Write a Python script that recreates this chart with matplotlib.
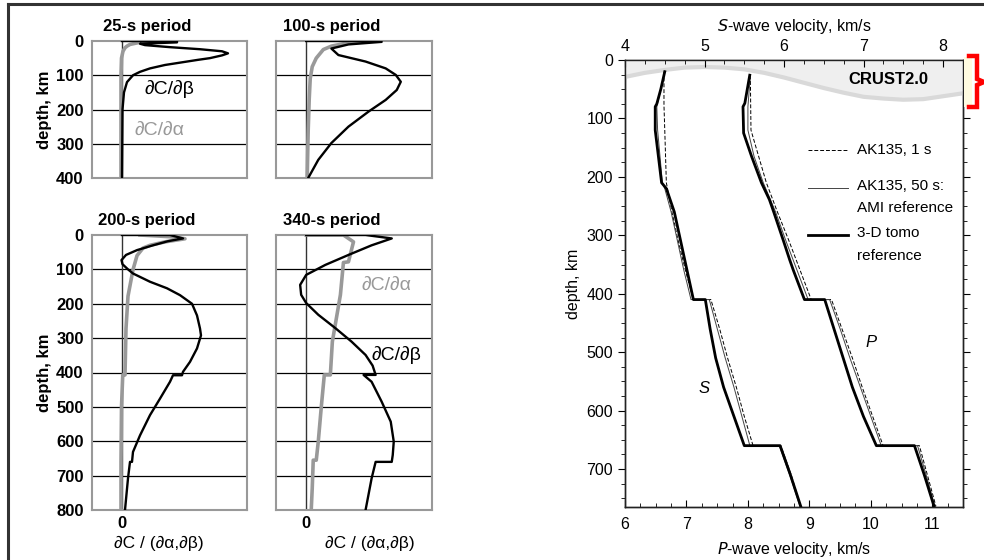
import matplotlib
matplotlib.use("Agg")
import matplotlib.pyplot as plt
from matplotlib.lines import Line2D
from matplotlib.patches import Rectangle
from matplotlib.ticker import MultipleLocator
import numpy as np

plt.rcParams['font.family'] = ['Liberation Sans', 'DejaVu Sans']

# ---- sensitivity kernels (arbitrary units), depth in km ----
titles = ["25-s period", "100-s period", "200-s period", "340-s period"]

k25_beta_d = [0, 0, 4, 8, 12, 18, 24, 30, 36, 42, 50, 55, 60, 70, 80, 90, 100, 120, 150, 200, 400]
k25_beta = [0, 0.44, 0.44, 0.144, 0.184, 0.384, 0.624, 0.80, 0.848, 0.80, 0.704, 0.608, 0.52,
            0.344, 0.224, 0.144, 0.088, 0.04, 0.016, 0.004, 0.0]
k25_alpha_d = [0, 2, 5, 10, 15, 20, 30, 50, 100, 400]
k25_alpha = [0.30, 0.224, 0.128, 0.064, 0.04, 0.024, 0.008, -0.004, -0.008, -0.008]

k100_beta_d = [0, 0, 2.5, 10, 22, 41, 60, 80, 99, 119, 143, 172, 206, 250, 298, 347, 400]
k100_beta = [0, 0.472, 0.6, 0.336, 0.2, 0.256, 0.472, 0.632, 0.712, 0.752, 0.72, 0.632, 0.496,
             0.336, 0.2, 0.096, 0.016]
k100_alpha_d = [0, 3, 8, 15, 25, 50, 75, 110, 170, 260, 400]
k100_alpha = [0.536, 0.416, 0.296, 0.2, 0.136, 0.08, 0.048, 0.032, 0.024, 0.016, 0.008]

k200_beta_d = [0, 0, 10, 18, 30, 44, 58, 73, 85, 100, 112, 136, 155, 175, 200, 234, 272, 292, 330,
               369, 398, 408, 408, 427, 476, 524, 583, 631, 660, 660, 708, 800]
k200_beta = [0, 0.384, 0.488, 0.368, 0.248, 0.12, 0.032, -0.004, 0.004, 0.048, 0.088, 0.224, 0.36,
             0.464, 0.56, 0.6, 0.624, 0.632, 0.6, 0.544, 0.488, 0.48, 0.408, 0.384, 0.304, 0.224,
             0.144, 0.088, 0.08, 0.064, 0.048, 0.024]
k200_alpha_d = [0, 5, 11, 20, 30, 38, 60, 101, 178, 272, 407, 407, 500, 660, 800]
k200_alpha = [0.144, 0.384, 0.504, 0.344, 0.224, 0.168, 0.12, 0.088, 0.048, 0.032, 0.024, 0.006,
              -0.004, -0.008, -0.008]

k340_beta_d = [0, 0, 10, 30, 58, 87, 116, 145, 174, 198, 232, 271, 310, 349, 380, 407, 407, 427,
               485, 543, 601, 640, 660, 660, 708, 800]
k340_beta = [0, 0.472, 0.68, 0.52, 0.336, 0.152, 0, -0.048, -0.04, 0, 0.096, 0.232, 0.36, 0.472,
             0.528, 0.552, 0.456, 0.52, 0.6, 0.672, 0.696, 0.688, 0.68, 0.552, 0.52, 0.472]
k340_alpha_d = [0, 0, 20, 78, 80, 174, 310, 407, 407, 500, 601, 655, 655, 737, 800]
k340_alpha = [0, 0.296, 0.376, 0.336, 0.296, 0.272, 0.208, 0.192, 0.144, 0.12, 0.096, 0.08,
              0.056, 0.048, 0.04]

# ---- velocity profiles ----
tomo_s_d = [20, 50, 75, 80, 120, 165, 210, 220, 260, 310, 360, 410, 410, 460, 510, 560, 610, 660,
            660, 710, 764]
tomo_s = [4.50, 4.45, 4.40, 4.38, 4.38, 4.42, 4.46, 4.52, 4.62, 4.70, 4.78, 4.86, 5.01, 5.07, 5.14,
          5.24, 5.37, 5.50, 5.95, 6.08, 6.21]
ami_s_d = [20, 80, 120, 165, 210, 220, 260, 310, 360, 410, 410, 460, 510, 560, 610, 660, 660, 710, 764]
ami_s = [4.50, 4.40, 4.41, 4.44, 4.47, 4.50, 4.58, 4.66, 4.74, 4.83, 5.06, 5.16, 5.26, 5.37, 5.47,
         5.57, 5.94, 6.07, 6.20]
ak1_s_d = [20, 77.5, 120, 165, 210, 210, 260, 310, 360, 410, 410, 460, 510, 560, 610, 660, 660, 710, 764]
ak1_s = [4.49, 4.49, 4.50, 4.51, 4.52, 4.52, 4.59, 4.67, 4.76, 4.86, 5.08, 5.19, 5.29, 5.40, 5.50,
         5.61, 5.96, 6.09, 6.21]

tomo_p_d = [26, 74, 80, 125, 165, 210, 239, 260, 310, 342, 360, 410, 410, 460, 510, 560, 610, 660,
            660, 710, 764]
tomo_p = [8.03, 7.95, 7.92, 7.93, 8.06, 8.22, 8.35, 8.42, 8.58, 8.68, 8.74, 8.92, 9.25, 9.40, 9.55,
          9.70, 9.88, 10.09, 10.71, 10.87, 11.03]
ami_p_d = [26, 80, 120, 165, 210, 260, 310, 360, 410, 410, 460, 510, 560, 610, 660, 660, 710, 764]
ami_p = [8.04, 8.00, 8.00, 8.10, 8.25, 8.45, 8.62, 8.80, 8.98, 9.33, 9.50, 9.66, 9.83, 10.00, 10.17,
         10.76, 10.90, 11.04]
ak1_p_d = [26, 77.5, 120, 165, 210, 260, 310, 360, 410, 410, 460, 510, 560, 610, 660, 660, 710, 764]
ak1_p = [8.04, 8.045, 8.05, 8.175, 8.30, 8.48, 8.67, 8.85, 9.03, 9.36, 9.53, 9.70, 9.86, 10.03, 10.20,
         10.79, 10.92, 11.06]

crust_s = [4.0, 4.25, 4.5, 4.75, 5.0, 5.25, 5.5, 5.75, 6.0, 6.25, 6.5, 6.75, 7.0, 7.25, 7.5, 7.75,
           8.0, 8.1, 8.25]
crust_d = [29, 22, 17, 13, 12, 13, 16, 22, 30, 39, 48, 56, 63, 66, 68, 67, 62, 60, 57]

legend_labels = ["AK135, 1 s", "AK135, 50 s:\nAMI reference", "3-D tomo\nreference"]

W, H = 984, 560
fig = plt.figure(figsize=(W / 100, H / 100), dpi=100)


def box(l, t, r, b):
    return [l / W, 1 - b / H, (r - l) / W, (b - t) / H]


GRAY = "#999999"
panels = [
    (box(92, 41, 247, 178), 400, k25_beta_d, k25_beta, k25_alpha_d, k25_alpha),
    (box(276, 41, 432, 178), 400, k100_beta_d, k100_beta, k100_alpha_d, k100_alpha),
    (box(92, 235, 247, 510), 800, k200_beta_d, k200_beta, k200_alpha_d, k200_alpha),
    (box(276, 235, 432, 510), 800, k340_beta_d, k340_beta, k340_alpha_d, k340_alpha),
]
kax = []
for i, (rect, dmax, bd, bv, ad, av) in enumerate(panels):
    ax = fig.add_axes(rect)
    ax.set_xlim(-0.24, 1.0)
    ax.set_ylim(dmax, 0)
    for d in range(100, dmax, 100):
        ax.axhline(d, color="black", lw=0.9, zorder=1)
    ax.axvline(0, color="#333333", lw=1.0, zorder=1)
    ax.plot(av, ad, color=GRAY, lw=2.6, zorder=2)
    ax.plot(bv, bd, color="black", lw=1.7, zorder=3)
    for s in ax.spines.values():
        s.set_color(GRAY)
        s.set_linewidth(1.5)
    ax.set_title(titles[i], fontsize=12, fontweight="bold", pad=7, x=0.355)
    ax.tick_params(length=0, labelsize=12, pad=6)
    ax.set_yticks(range(0, dmax + 1, 100))
    if i in (0, 2):
        ax.set_ylabel("depth, km", fontsize=12, fontweight="bold", labelpad=3)
        for lab in ax.get_yticklabels():
            lab.set_fontweight("bold")
    else:
        ax.set_yticklabels([])
    if i in (2, 3):
        ax.set_xticks([0])
        ax.set_xticklabels(["0"], fontweight="bold")
        ax.tick_params(axis="x", pad=4)
        ax.set_xlabel("∂C / (∂α,∂β)", fontsize=12.5)
        ax.xaxis.set_label_coords(0.43 if i == 2 else 0.6, -0.095)
    else:
        ax.set_xticks([])
    kax.append(ax)

kax[0].text(0.38, 140, "∂C/∂β", fontsize=14, color="black", ha="center", va="center")
kax[0].text(0.30, 260, "∂C/∂α", fontsize=14, color=GRAY, ha="center", va="center")
kax[3].text(0.64, 145, "∂C/∂α", fontsize=14, color=GRAY, ha="center", va="center")
kax[3].text(0.72, 350, "∂C/∂β", fontsize=14, color="black", ha="center", va="center")

# ---- velocity panel ----
axp = fig.add_axes(box(625, 60, 963, 507))
axp.set_xlim(6, 11.5)
axp.set_ylim(765, 0)
axs = axp.twiny()
axs.set_xlim(4, 8.25)

axs.fill_between(crust_s, 0, crust_d, color="#efefef", lw=0, zorder=1)
axs.plot(crust_s, crust_d, color="#d9d9d9", lw=3, zorder=1)
axs.text(7.31, 34, "CRUST2.0", fontsize=12, fontweight="bold", ha="center", va="center")

styles = [dict(color="black", lw=0.7, ls=(0, (4, 2))),
          dict(color="#444444", lw=0.7),
          dict(color="black", lw=2.0)]
for (sv, sd, pv, pd_), st in zip([(ak1_s, ak1_s_d, ak1_p, ak1_p_d),
                                  (ami_s, ami_s_d, ami_p, ami_p_d),
                                  (tomo_s, tomo_s_d, tomo_p, tomo_p_d)], styles):
    axs.plot(sv, sd, **st)
    axs.plot(pv, pd_, transform=axp.transData, **st)

axp.text(7.28, 562, "S", fontsize=12, style="italic", ha="center", va="center")
axp.text(10.01, 484, "P", fontsize=12, style="italic", ha="center", va="center")

# legend keys (axes fraction)
key_y = [0.799, 0.714, 0.609]
text_y = [0.799, 0.693, 0.587]
for st, ky, ty, lab in zip(styles, key_y, text_y, legend_labels):
    axs.add_line(Line2D([0.541, 0.660], [ky, ky], transform=axs.transAxes, **st))
    axs.text(0.686, ty, lab, transform=axs.transAxes, fontsize=11, ha="left", va="center",
             linespacing=1.75)

for a in (axp, axs):
    for s in a.spines.values():
        s.set_color("#222222")
        s.set_linewidth(1.0)

axp.xaxis.set_major_locator(MultipleLocator(1))
axp.xaxis.set_minor_locator(MultipleLocator(0.25))
axp.set_yticks(range(0, 701, 100))
axp.yaxis.set_minor_locator(MultipleLocator(25))
axp.tick_params(axis="x", which="both", direction="in", top=False, labelsize=11.5, pad=7)
axp.tick_params(axis="y", which="both", direction="out", right=True, labelsize=11.5)
axp.tick_params(which="major", length=5)
axp.tick_params(which="minor", length=3)
axp.tick_params(axis="y", which="both", labelright=False)
axs.xaxis.set_major_locator(MultipleLocator(1))
axs.xaxis.set_minor_locator(MultipleLocator(0.25))
axs.tick_params(axis="x", which="both", direction="in", labelsize=11.5, pad=4)
axs.tick_params(which="major", length=5)
axs.tick_params(which="minor", length=3)
axp.set_xlabel("$\\it{P}$-wave velocity, km/s", fontsize=11.5, labelpad=6)
axs.set_xlabel("$\\it{S}$-wave velocity, km/s", fontsize=11.5, labelpad=6)
axp.set_ylabel("depth, km", fontsize=11.5, labelpad=4)

# frame lines and red bracket
fig.add_artist(Line2D([8 / W, 8 / W], [0, 1 - 4 / H], color="#333333", lw=2.2))
fig.add_artist(Line2D([8 / W, 1], [1 - 4 / H, 1 - 4 / H], color="#333333", lw=2.2))
fig.add_artist(Rectangle((964 / W, 1 - 107 / H), 8 / W, 50 / H, color="#fffbe0", lw=0))
bx = [969, 977, 977, 984, 977, 977, 969]
by = [56, 56, 79, 82, 85, 107, 107]
fig.add_artist(Line2D([x / W for x in bx], [1 - y / H for y in by], color="red", lw=3.2,
                      solid_joinstyle="miter"))

fig.savefig("out.png", dpi=100)
